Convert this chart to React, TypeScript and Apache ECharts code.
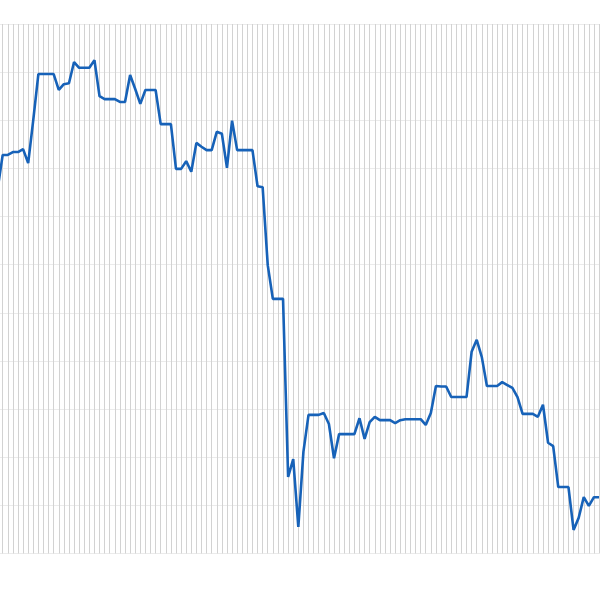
import React, { useEffect, useRef } from "react";
import * as echarts from "echarts";

const values: number[] = [
  75.7, 82.8, 82.8, 83.4, 83.4, 84.0, 81.1, 90.1, 99.6, 99.6,
  99.6, 99.6, 96.3, 97.5, 97.7, 102.1, 100.9, 100.9, 100.9, 102.5,
  95.0, 94.4, 94.4, 94.4, 93.8, 93.8, 99.4, 96.5, 93.4, 96.3,
  96.3, 96.3, 89.2, 89.2, 89.2, 79.9, 79.9, 81.5, 79.3, 85.3,
  84.5, 83.8, 83.8, 87.6, 87.2, 80.1, 89.9, 83.8, 83.8, 83.8,
  83.8, 76.3, 76.1, 59.9, 52.9, 52.9, 52.9, 15.9, 19.6, 5.5,
  21.1, 28.8, 28.8, 28.8, 29.2, 26.9, 19.8, 24.8, 24.8, 24.8,
  24.8, 28.1, 23.8, 27.3, 28.4, 27.7, 27.7, 27.7, 27.1, 27.7,
  27.9, 27.9, 27.9, 27.9, 26.7, 29.2, 34.8, 34.7, 34.7, 32.5,
  32.5, 32.5, 32.5, 41.9, 44.4, 40.8, 34.8, 34.8, 34.8, 35.6,
  35.0, 34.4, 32.5, 29.0, 29.0, 29.0, 28.4, 30.9, 23.0, 22.3,
  13.8, 13.8, 13.8, 4.9, 7.4, 11.7, 9.9, 11.7, 11.7,
];

const categories: string[] = values.map((_, i) => String(i + 1));

const yMin = 0;
const yMax = 110;
const yStep = 10;

export default function App() {
  const ref = useRef<HTMLDivElement>(null);
  useEffect(() => {
    if (!ref.current) return;
    const chart = echarts.init(ref.current, undefined, { renderer: "svg" });
    const step = 5.097;
    chart.setOption({
      animation: false,
      backgroundColor: "#ffffff",
      grid: {
        left: 47.6,
        top: 24,
        width: step * (categories.length - 1),
        height: 529.5,
      },
      xAxis: {
        type: "category",
        boundaryGap: false,
        data: categories,
        axisLine: { show: false },
        axisTick: { show: false },
        axisLabel: { show: false },
        splitLine: {
          show: true,
          interval: 0,
          lineStyle: { color: "#d2d2d2", width: 1 },
        },
      },
      yAxis: {
        type: "value",
        min: yMin,
        max: yMax,
        interval: yStep,
        axisLine: { show: false },
        axisTick: { show: false },
        axisLabel: { show: false },
        splitLine: { show: true, lineStyle: { color: "#ebebeb", width: 1 } },
      },
      series: [
        {
          type: "line",
          data: values,
          symbol: "none",
          smooth: false,
          lineStyle: { color: "#1762b8", width: 2.6 },
          itemStyle: { color: "#1762b8" },
        },
      ],
    });
    return () => chart.dispose();
  }, []);
  return (
    <div
      style={{
        position: "fixed",
        left: 0,
        top: 0,
        width: 600,
        height: 600,
        overflow: "hidden",
        background: "#ffffff",
      }}
    >
      <div
        ref={ref}
        style={{ position: "absolute", left: -50, top: 0, width: 700, height: 600 }}
      />
    </div>
  );
}
